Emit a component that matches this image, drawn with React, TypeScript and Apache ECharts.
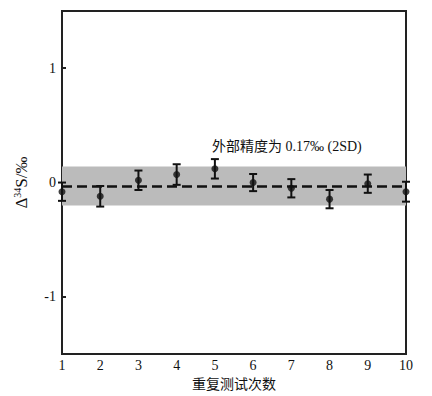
import React, { useEffect, useRef } from "react";
import * as echarts from "echarts";

const runs = [1, 2, 3, 4, 5, 6, 7, 8, 9, 10];
const values = [-0.08, -0.12, 0.02, 0.07, 0.12, 0.0, -0.05, -0.145, -0.01, -0.08];
const errors = [0.08, 0.09, 0.085, 0.09, 0.085, 0.075, 0.08, 0.08, 0.08, 0.087];
const meanValue = -0.03;
const precision = 0.17;
const yTicks = [-1, 0, 1];
const annotation = "外部精度为 0.17‰ (2SD)";
const xName = "重复测试次数";

const serif = "'Liberation Serif', 'Noto Sans CJK SC', serif";

export default function App() {
  const ref = useRef<HTMLDivElement>(null);
  useEffect(() => {
    if (!ref.current) return;
    const chart = echarts.init(ref.current, undefined, { renderer: "svg" });
    const pts = runs.map((r, i) => [r, values[i]]);
    const errData = runs.map((r, i) => [r, values[i] - errors[i], values[i] + errors[i]]);
    chart.setOption({
      animation: false,
      backgroundColor: "#fff",
      grid: {
        left: 62,
        right: 26,
        top: 11,
        bottom: 39,
        show: true,
        borderColor: "#222",
        borderWidth: 2,
      },
      xAxis: {
        type: "value",
        min: 1,
        max: 10,
        interval: 1,
        name: xName,
        nameLocation: "middle",
        nameGap: 20,
        nameTextStyle: { fontFamily: serif, fontSize: 14, color: "#111" },
        axisLine: { lineStyle: { color: "#222", width: 2 } },
        axisTick: { inside: true, length: 5, lineStyle: { color: "#222", width: 2 } },
        axisLabel: { fontFamily: serif, fontSize: 14, color: "#111", margin: 4 },
        splitLine: { show: false },
      },
      yAxis: {
        type: "value",
        min: -1.5,
        max: 1.5,
        interval: 0.5,
        name: "{a|Δ}{sup|34}{a|S/‰}",
        nameLocation: "middle",
        nameRotate: 90,
        nameGap: 32,
        nameTextStyle: {
          rich: {
            a: { fontFamily: serif, fontSize: 17, color: "#111", verticalAlign: "bottom" },
            sup: { fontFamily: serif, fontSize: 10, color: "#111", verticalAlign: "bottom", padding: [0, 0, 8, 0] },
          },
        },
        axisLine: { lineStyle: { color: "#222", width: 2 } },
        axisTick: {
          inside: true,
          length: 4,
          customValues: yTicks,
          lineStyle: { color: "#222", width: 2 },
        },
        axisLabel: {
          fontFamily: serif,
          fontSize: 14,
          color: "#111",
          margin: 6,
          customValues: yTicks,
          formatter: (v: number) => (yTicks.includes(v) ? String(v) : ""),
        },
        splitLine: { show: false },
      },
      series: [
        {
          type: "line",
          data: [],
          markArea: {
            silent: true,
            itemStyle: { color: "#bbbbbb" },
            data: [[{ yAxis: meanValue - precision }, { yAxis: meanValue + precision }]],
          },
          markLine: {
            silent: true,
            symbol: "none",
            label: { show: false },
            lineStyle: { color: "#111", width: 2.5, type: [10, 5] },
            data: [{ yAxis: meanValue }],
          },
        },
        {
          type: "custom",
          data: errData,
          z: 3,
          renderItem: (params: any, api: any) => {
            const x = api.value(0);
            const lo = api.coord([x, api.value(1)]);
            const hi = api.coord([x, api.value(2)]);
            const cap = 4;
            const style = { stroke: "#111", lineWidth: 2 };
            return {
              type: "group",
              children: [
                { type: "line", shape: { x1: lo[0], y1: lo[1], x2: hi[0], y2: hi[1] }, style },
                { type: "line", shape: { x1: lo[0] - cap, y1: lo[1], x2: lo[0] + cap, y2: lo[1] }, style },
                { type: "line", shape: { x1: hi[0] - cap, y1: hi[1], x2: hi[0] + cap, y2: hi[1] }, style },
              ],
            };
          },
        },
        {
          type: "scatter",
          data: pts,
          symbol: "circle",
          symbolSize: 7,
          z: 4,
          itemStyle: { color: "#111" },
        },
      ],
      graphic: [
        {
          type: "text",
          left: 212,
          top: 139,
          style: { text: annotation, font: `14px ${serif}`, fill: "#111" },
        },
      ],
    });
    return () => chart.dispose();
  }, []);
  return (
    <div
      ref={ref}
      style={{ position: "fixed", left: 0, top: 0, width: 432, height: 396 }}
    />
  );
}
